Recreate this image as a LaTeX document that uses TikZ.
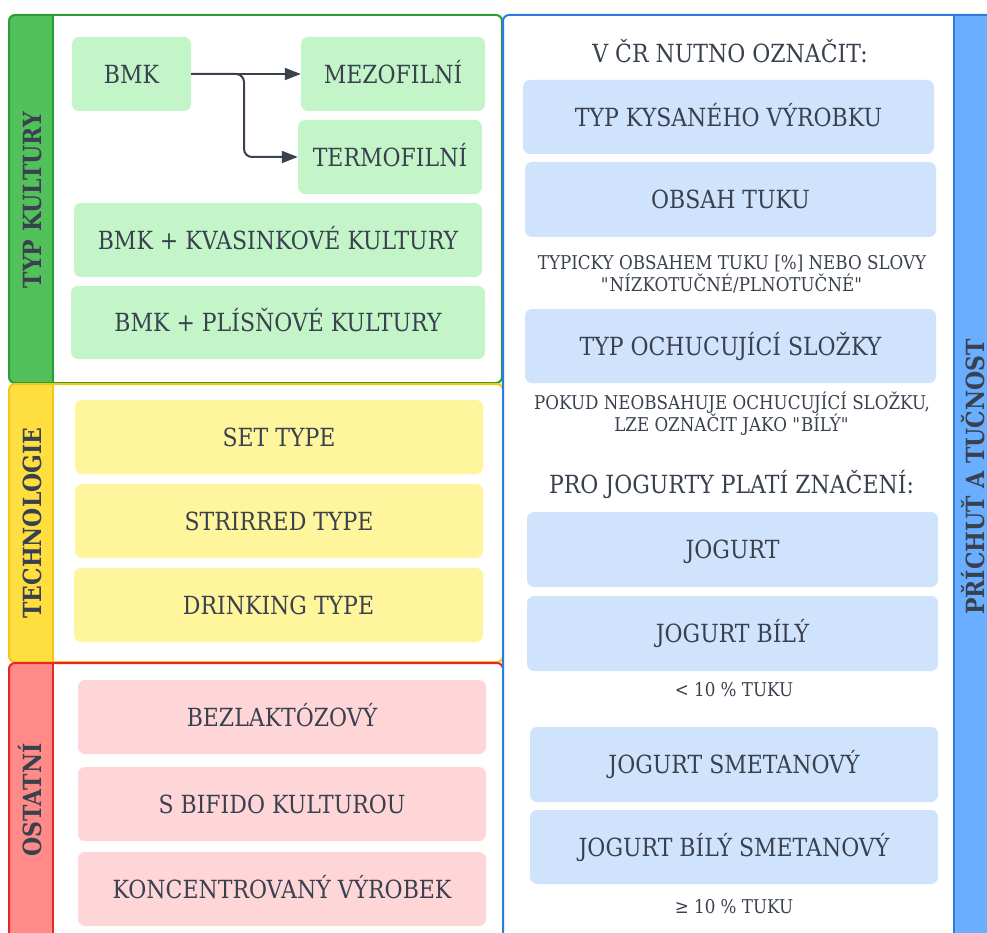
\documentclass[tikz,border=0pt]{standalone}
\usepackage{fontspec}
\setmainfont{DejaVu Serif}[FakeStretch=0.88]
\usetikzlibrary{arrows.meta}
\definecolor{txt}{HTML}{3A414E}
\definecolor{arrc}{HTML}{3B414D}
\definecolor{gside}{HTML}{53C15B}
\definecolor{gline}{HTML}{2A9D33}
\definecolor{gnode}{HTML}{C3F5C8}
\definecolor{yside}{HTML}{FFDF40}
\definecolor{yline}{HTML}{F5C518}
\definecolor{ynode}{HTML}{FFF59D}
\definecolor{rside}{HTML}{FF8A88}
\definecolor{rline}{HTML}{E8262A}
\definecolor{rnode}{HTML}{FFD6D8}
\definecolor{bside}{HTML}{6AAEFF}
\definecolor{bline}{HTML}{2E7BE0}
\definecolor{bnode}{HTML}{CFE3FD}
\newcommand\mybigfont{\fontsize{25}{30}\selectfont}
\newcommand\mysmallfont{\fontsize{19}{22}\selectfont}
\tikzset{
  box/.style={rounded corners=7pt, inner sep=0pt, text=txt, font=\mybigfont,
    text height=18.2pt, text depth=0pt, minimum height=74pt, align=center},
  gbox/.style={box, fill=gnode},
  ybox/.style={box, fill=ynode},
  rbox/.style={box, fill=rnode},
  bbox/.style={box, fill=bnode},
  sidelabel/.style={rotate=90, inner sep=0pt, text=txt, font=\mybigfont\bfseries,
    text height=18.2pt, text depth=0pt},
  plaintext/.style={inner sep=0pt, text=txt, font=\mybigfont, text height=18.2pt, text depth=0pt},
  note/.style={inner sep=0pt, text=txt, font=\mysmallfont, align=center},
  arr/.style={draw=arrc, line width=2pt, rounded corners=8pt, -{Triangle[length=16pt, width=12pt]}},
  frame/.style={line width=2pt, rounded corners=6pt}
}
\begin{document}
\begin{tikzpicture}[x=1pt, y=-1pt]
\useasboundingbox (0,0) rectangle (987,933);
\clip (0,0) rectangle (987,933);

% ---- green group
\fill[white, rounded corners=6pt] (9,15) rectangle (502,383);
\begin{scope}
  \clip (0,0) rectangle (53,1000);
  \fill[gside, rounded corners=6pt] (9,15) rectangle (502,383);
\end{scope}
\draw[frame, draw=gline] (9,15) rectangle (502,383);
\draw[line width=2pt, gline] (53,15) -- (53,383);
\node[sidelabel] (lg) at (32,200) {TYP KULTURY};

% ---- yellow group
\fill[white, rounded corners=6pt] (9,384) rectangle (503,662);
\begin{scope}
  \clip (0,0) rectangle (53,1000);
  \fill[yside, rounded corners=6pt] (9,384) rectangle (503,662);
\end{scope}
\draw[frame, draw=yline] (9,384) rectangle (503,662);
\draw[line width=2pt, yline] (53,384) -- (53,662);
\node[sidelabel] (ly) at (32,523) {TECHNOLOGIE};

% ---- red group
\fill[white, rounded corners=6pt] (9,663) rectangle (503,960);
\begin{scope}
  \clip (0,0) rectangle (53,1000);
  \fill[rside, rounded corners=6pt] (9,663) rectangle (503,960);
\end{scope}
\draw[frame, draw=rline] (9,663) rectangle (503,960);
\draw[line width=2pt, rline] (53,663) -- (53,960);
\node[sidelabel] (lr) at (32,800) {OSTATNÍ};

% ---- blue group
\fill[white, rounded corners=6pt] (503,15) rectangle (1000,960);
\begin{scope}
  \clip (954,0) rectangle (1100,1000);
  \fill[bside, rounded corners=6pt] (503,15) rectangle (1000,960);
\end{scope}
\draw[frame, draw=bline] (503,15) rectangle (1000,960);
\draw[line width=2pt, bline] (954,15) -- (954,960);
\node[sidelabel] (lb) at (975.5,477) {PŘÍCHUŤ A TUČNOST};

% ---- culture nodes
\node[gbox, minimum width=119pt] (bmk) at (131.5,74) {BMK};
\node[gbox, minimum width=184pt] (mez) at (393,74) {MEZOFILNÍ};
\node[gbox, minimum width=184pt] (ter) at (390,157) {TERMOFILNÍ};
\node[gbox, minimum width=408pt] (kva) at (278,240) {BMK + KVASINKOVÉ KULTURY};
\node[gbox, minimum width=414pt, minimum height=73pt] (pli) at (278,322.5) {BMK + PLÍSŇOVÉ KULTURY};
\coordinate (br) at (244,74);
\draw[arr] (bmk.east) -- (mez.west);
\draw[arr] (bmk.east) -- (br) |- (ter.west);

% ---- technology nodes
\node[ybox, minimum width=408pt] (set) at (279,437) {SET TYPE};
\node[ybox, minimum width=408pt] (str) at (279,521) {STRIRRED TYPE};
\node[ybox, minimum width=409pt] (dri) at (278.5,605) {DRINKING TYPE};

% ---- other nodes
\node[rbox, minimum width=408pt] (bez) at (282,717) {BEZLAKTÓZOVÝ};
\node[rbox, minimum width=408pt] (bif) at (282,804) {S BIFIDO KULTUROU};
\node[rbox, minimum width=408pt] (kon) at (282,889) {KONCENTROVANÝ VÝROBEK};

% ---- right column
\node[plaintext] (t1) at (730,53) {V ČR NUTNO OZNAČIT:};
\node[bbox, minimum width=411pt] (tkv) at (728.5,117) {TYP KYSANÉHO VÝROBKU};
\node[bbox, minimum width=411pt, minimum height=75pt] (obs) at (730.5,199.5) {OBSAH TUKU};
\node[note] (n1) at (732,274) {TYPICKY OBSAHEM TUKU [\%] NEBO SLOVY\\\textquotedbl NÍZKOTUČNÉ/PLNOTUČNÉ\textquotedbl};
\node[bbox, minimum width=411pt] (och) at (730.5,346) {TYP OCHUCUJÍCÍ SLOŽKY};
\node[note] (n2) at (732,414) {POKUD NEOBSAHUJE OCHUCUJÍCÍ SLOŽKU,\\LZE OZNAČIT JAKO \textquotedbl BÍLÝ\textquotedbl};
\node[plaintext] (t2) at (731.5,484) {PRO JOGURTY PLATÍ ZNAČENÍ:};
\node[bbox, minimum width=411pt, minimum height=75pt] (jog) at (732.5,549.5) {JOGURT};
\node[bbox, minimum width=411pt, minimum height=75pt] (jbi) at (732.5,633.5) {JOGURT BÍLÝ};
\node[note] (n3) at (734,690) {< 10 \% TUKU};
\node[bbox, minimum width=408pt, minimum height=75pt] (jsm) at (734,764.5) {JOGURT SMETANOVÝ};
\node[bbox, minimum width=408pt] (jbs) at (734,847) {JOGURT BÍLÝ SMETANOVÝ};
\node[note] (n4) at (734,907) {≥ 10 \% TUKU};
\end{tikzpicture}
\end{document}
